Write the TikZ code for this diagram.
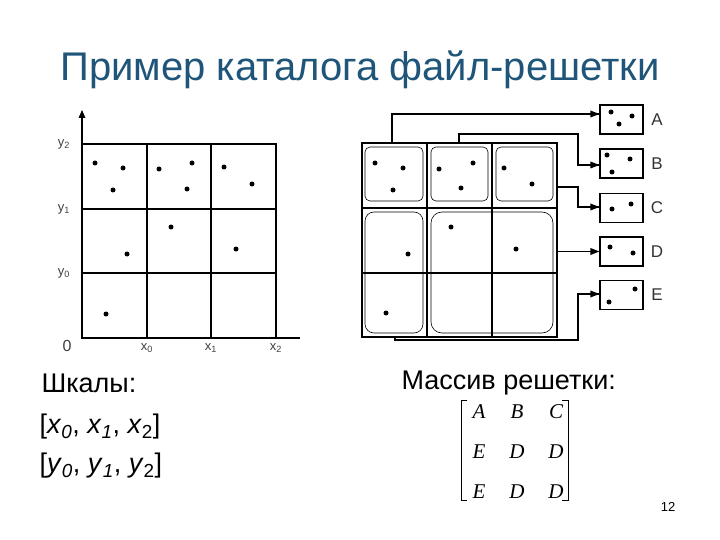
\documentclass[tikz,border=0pt]{standalone}
\usepackage{fontspec}
\setmainfont{Liberation Sans}
\newfontfamily\serifm{Liberation Serif}
\begin{document}
\begin{tikzpicture}[x=1pt,y=-1pt,
  pt/.style={fill=black,circle,inner sep=0pt,minimum size=5pt},
  ln/.style={line width=1.2pt},
  bx/.style={draw,line width=1.2pt,minimum width=43pt,minimum height=29pt,inner sep=0pt},
  conn/.style={line width=1.2pt},
  tip/.pic={\fill (0,0)--(-8,-3.5)--(-8,3.5)--cycle;},
  ax/.style={font=\fontsize{13}{14}\selectfont,text=black!75},
  big/.style={font=\fontsize{27}{30}\selectfont,anchor=west},
  ml/.style={font=\serifm\itshape\fontsize{21}{24}\selectfont}]
\useasboundingbox (0,0) rectangle (720,540);
\node[font=\fontsize{40}{44}\selectfont,text={rgb,255:red,30;green,85;blue,120}] (title) at (360,70) {Пример каталога файл-решетки};
% left grid
\draw[ln] (82,144) rectangle (276,338);
\foreach \x in {147,211} \draw[ln] (\x,144)--(\x,338);
\foreach \y in {209,273} \draw[ln] (82,\y)--(276,\y);
\draw[ln] (82,338)--(82,116);
\fill (82,110)--(78.5,118)--(85.5,118)--cycle;
\draw[ln] (82,338)--(300,338);
\node[ax] (ly2) at (64,144) {y\textsubscript{2}};
\node[ax] (ly1) at (64,209) {y\textsubscript{1}};
\node[ax] (ly0) at (64,273) {y\textsubscript{0}};
\node[ax,font=\fontsize{16}{17}\selectfont] (l0) at (67,346) {0};
\node[ax] (lx0) at (147,348) {x\textsubscript{0}};
\node[ax] (lx1) at (211,348) {x\textsubscript{1}};
\node[ax] (lx2) at (276,348) {x\textsubscript{2}};
\foreach \p in {(95,163),(123,168),(113,190),(159,169),(192,163),(187,189),(224,167),(252,184),(171,227),(127,254),(236,249),(106,314)} \node[pt] at \p {};
% right grid
\draw[ln] (362,143) rectangle (557,337);
\foreach \x in {427,492} \draw[ln] (\x,143)--(\x,337);
\foreach \y in {208,273} \draw[ln] (362,\y)--(557,\y);
\draw[line width=0.6pt,rounded corners=5pt] (365,147) rectangle (423,201);
\draw[line width=0.6pt,rounded corners=5pt] (431,147) rectangle (488,201);
\draw[line width=0.6pt,rounded corners=5pt] (496,147) rectangle (553,201);
\draw[line width=0.6pt,rounded corners=9pt] (365,212) rectangle (423,333);
\draw[line width=0.6pt,rounded corners=11pt] (431,212) rectangle (553,333);
\foreach \p in {(375,163),(403,168),(393,190),(439,169),(473,163),(461,188),(504,168),(532,184),(451,227),(408,254),(516,249),(386,313)} \node[pt] at \p {};
% buckets
\node[bx] (A) at (621.5,119.5) {};
\node[bx] (B) at (621.5,163.5) {};
\node[bx] (C) at (621.5,208) {};
\node[bx] (D) at (621.5,251.5) {};
\node[bx] (E) at (621.5,295) {};
\foreach \n/\y in {A/119.5,B/163.5,C/208,D/251.5,E/295} \node[font=\fontsize{17}{18}\selectfont,text=black!80] (l\n) at (657,\y) {\n};
\foreach \p in {(611,112),(632,116),(619,124),(607,155),(630,159),(612,172),(612,209),(631,204),(610,247),(633,253),(635,289),(609,302)} \node[pt] at \p {};
\coordinate (sA) at (392,143);
\coordinate (sB) at (459,143);
\coordinate (sC) at (557,187);
\coordinate (sD) at (557,251.5);
\coordinate (sE) at (395,337);
\coordinate (eA) at (A.west |- 0,114);
\coordinate (eB) at (B.west |- 0,165);
\coordinate (eC) at (C.west |- 0,207);
\coordinate (eD) at (D.west);
\coordinate (eE) at (E.west |- 0,294);
\draw[conn] (sA)--(392,114)--(eA);
\draw[conn] (sB)--(459,134)--(578,134)--(578,165)--(eB);
\draw[conn] (sC)--(578,187)--(578,207)--(eC);
\draw[conn] (sD)--(eD);
\draw[conn] (sE)--(395,340)--(578,340)--(578,294)--(eE);
\foreach \e in {eA,eB,eC,eD,eE} \fill (\e) -- ++(-9,-3.5) -- ++(0,7) -- cycle;
% texts
\node[big] (t1) at (38,383) {Шкалы:};
\node[big] (t2) at (36,427) {[\textit{x}\textsubscript{\textit{0}}, \textit{x}\textsubscript{\textit{1}}, \textit{x}\textsubscript{2}]};
\node[big] (t3) at (36,466) {[\textit{y}\textsubscript{\textit{0}}, \textit{y}\textsubscript{\textit{1}}, \textit{y}\textsubscript{2}]};
\node[big] (t4) at (398,383) {Массив решетки:};
% matrix
\draw[line width=1pt] (467,400)--(461,400)--(461,500)--(467,500);
\draw[line width=1pt] (562,400)--(568,400)--(568,500)--(562,500);
\node[ml] (m11) at (479,412) {A};
\node[ml] (m12) at (517,412) {B};
\node[ml] (m13) at (556,412) {C};
\node[ml] (m21) at (479,452) {E};
\node[ml] (m22) at (517,452) {D};
\node[ml] (m23) at (556,452) {D};
\node[ml] (m31) at (479,492) {E};
\node[ml] (m32) at (517,492) {D};
\node[ml] (m33) at (556,492) {D};
\node[font=\fontsize{13}{14}\selectfont] (pg) at (668,507) {12};
\end{tikzpicture}
\end{document}
